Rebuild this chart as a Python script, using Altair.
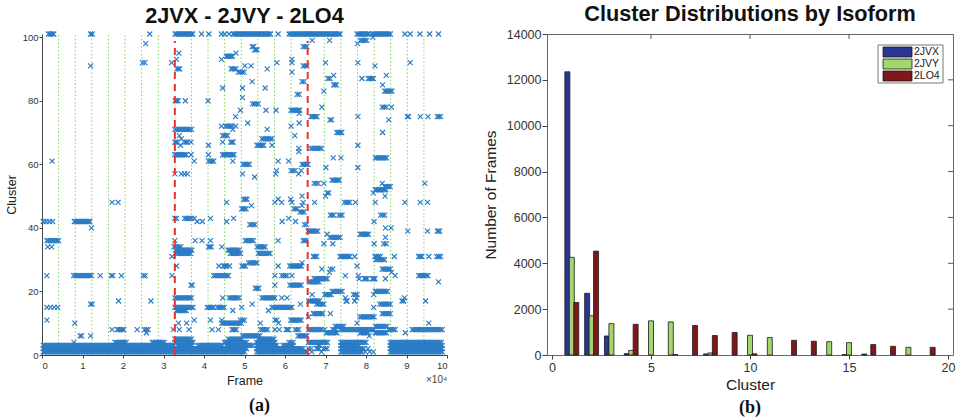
import altair as alt
import numpy as np
import pandas as pd

# ---------------- Panel (a): cluster membership per frame ----------------
# runs: (cluster, first frame, last frame), frames in thousands
runs_2jvx = [
    (1, 0.3, 32.6), (2, 0.3, 32.6), (3, 0.3, 32.6),
    (4, 7.9, 7.9), (4, 18.0, 20.8), (4, 27.2, 30.2),
    (6, 9.4, 9.8), (6, 12.0, 12.0), (7, 25.8, 25.8),
    (8, 17.3, 17.3), (8, 18.6, 20.2), (8, 23.5, 23.5), (8, 25.3, 26.2), (8, 32.4, 32.4),
    (10, 8.1, 8.1), (11, 1.2, 1.2),
    (15, 1.2, 1.2), (15, 2.1, 2.1), (15, 3.0, 3.0), (15, 3.9, 3.9),
    (16, 12.0, 12.4), (17, 18.9, 18.9), (17, 26.9, 26.9),
    (25, 1.2, 1.2), (25, 7.8, 12.2), (25, 14.4, 14.4), (25, 17.1, 17.5), (25, 19.6, 19.6),
    (25, 25.0, 25.5), (25, 32.1, 32.1), (31, 32.1, 32.1),
    (34, 1.4, 1.4), (34, 2.4, 2.4), (36, 1.2, 4.1), (40, 12.2, 12.2),
    (42, 0.3, 0.3), (42, 1.0, 1.0), (42, 1.8, 1.8), (42, 2.6, 2.6), (42, 8.0, 11.8),
    (48, 17.3, 17.3), (48, 18.8, 18.8), (61, 2.5, 2.5),
    (91, 12.0, 12.0), (92, 24.8, 25.4), (92, 32.0, 32.0), (98, 25.6, 25.6),
    (101, 1.6, 2.9), (101, 12.0, 12.4), (101, 26.6, 26.6),
]

runs_2jvy = [
    (1, 32.8, 50.0), (1, 53.0, 65.4), (2, 32.8, 50.5), (2, 53.0, 64.5),
    (3, 33.5, 37.0), (3, 38.5, 44.5), (3, 45.5, 52.0), (3, 53.0, 58.0), (3, 59.5, 62.0),
    (4, 32.8, 37.3), (4, 45.0, 50.5), (4, 53.0, 57.5), (4, 61.0, 62.0),
    (5, 32.8, 36.9), (5, 46.0, 49.3), (5, 53.4, 57.3),
    (6, 49.5, 53.8), (6, 63.2, 65.4),
    (8, 33.9, 33.9), (8, 36.3, 36.3), (8, 42.0, 42.0), (8, 43.6, 43.6), (8, 46.9, 48.0),
    (8, 54.0, 55.7), (8, 57.5, 57.5), (8, 58.6, 58.6), (8, 60.3, 60.9), (8, 62.5, 63.4),
    (10, 33.7, 33.7), (10, 35.7, 35.7), (10, 44.4, 49.2), (10, 53.9, 53.9), (10, 58.4, 58.4),
    (11, 37.6, 37.8), (11, 41.6, 41.6), (11, 44.4, 44.4), (11, 49.0, 50.0), (11, 57.5, 58.0),
    (11, 61.4, 64.0),
    (14, 33.2, 35.6), (14, 47.1, 47.1), (14, 55.9, 55.9),
    (15, 32.8, 37.3), (15, 40.8, 42.4), (15, 43.3, 45.0), (15, 49.3, 49.3), (15, 56.8, 61.7),
    (16, 51.9, 51.9), (16, 63.8, 63.8),
    (18, 32.8, 36.9), (18, 44.6, 44.6), (18, 46.2, 48.7), (18, 54.3, 57.5), (18, 59.2, 59.2),
    (18, 60.5, 60.5),
    (21, 52.7, 53.5), (22, 36.8, 37.1), (22, 57.5, 57.5), (22, 61.2, 64.0),
    (25, 42.4, 45.7), (25, 46.0, 46.0), (25, 57.5, 57.5), (25, 59.2, 60.5), (25, 61.7, 61.7),
    (28, 33.2, 33.4), (28, 43.7, 43.7), (28, 44.8, 45.6), (28, 46.3, 46.3), (28, 49.4, 50.2),
    (28, 58.3, 58.3), (28, 61.2, 64.0), (29, 51.0, 53.1), (29, 64.2, 64.2),
    (32, 33.2, 36.7), (32, 46.5, 49.0), (32, 53.4, 56.3), (33, 33.0, 37.0), (33, 45.9, 48.7),
    (34, 32.6, 34.3), (34, 41.1, 41.8), (34, 44.4, 44.4), (34, 53.1, 55.1),
    (36, 32.8, 32.8), (36, 37.8, 37.8), (36, 39.5, 39.5), (36, 41.6, 41.6), (36, 50.2, 52.2),
    (36, 58.3, 58.3), (36, 64.5, 65.2), (41, 51.3, 52.6), (41, 64.8, 65.3),
    (42, 38.3, 38.3), (42, 39.6, 39.6), (42, 45.6, 45.6), (42, 59.3, 59.3), (42, 62.6, 62.6),
    (43, 32.8, 33.2), (43, 35.2, 36.9), (43, 37.6, 37.6), (43, 41.6, 41.6), (43, 47.3, 47.3),
    (43, 60.9, 60.9), (45, 63.7, 64.7), (46, 49.3, 50.4), (46, 62.2, 63.0),
    (47, 51.7, 51.7), (47, 64.2, 64.2),
    (48, 45.6, 45.6), (48, 57.5, 57.5), (48, 59.2, 59.2), (48, 61.7, 61.7), (48, 64.5, 64.5),
    (49, 49.8, 50.6), (49, 58.3, 58.3), (49, 61.4, 61.4), (50, 64.2, 64.2),
    (56, 52.5, 52.5), (57, 32.8, 32.8), (57, 34.4, 34.4), (57, 35.2, 35.2), (57, 35.9, 35.9),
    (57, 49.5, 49.5), (57, 57.7, 57.7), (57, 63.4, 63.4),
    (58, 57.9, 57.9), (58, 61.5, 62.5), (58, 64.0, 64.0), (60, 49.6, 51.2), (60, 64.2, 65.7),
    (61, 37.6, 37.6), (61, 41.1, 42.4), (61, 47.1, 47.1), (61, 58.3, 58.3), (61, 60.9, 60.9),
    (63, 32.8, 35.6), (63, 36.8, 36.8), (63, 41.1, 41.1), (63, 44.6, 47.4),
    (64, 63.4, 63.4), (65, 63.4, 63.4),
    (66, 34.2, 34.2), (66, 41.1, 41.1), (66, 53.1, 54.7), (66, 56.8, 56.8),
    (67, 32.8, 33.4), (67, 35.2, 36.0), (67, 36.8, 36.8), (67, 44.6, 44.6), (67, 46.6, 47.2),
    (68, 34.4, 34.4), (68, 54.3, 56.8), (69, 33.9, 33.9), (69, 44.6, 45.8), (69, 62.4, 62.4),
    (71, 32.8, 36.9), (71, 47.1, 47.1), (71, 55.6, 55.6),
    (72, 44.3, 44.3), (72, 45.3, 47.0), (72, 47.8, 47.8), (72, 61.5, 61.5),
    (73, 50.8, 50.8), (73, 63.5, 63.5), (75, 47.8, 47.8), (76, 63.5, 63.5),
    (77, 49.0, 49.0), (77, 55.3, 55.3), (77, 57.8, 57.8), (77, 61.5, 63.6),
    (79, 52.0, 53.4), (80, 32.9, 33.6), (80, 35.4, 35.4), (80, 41.0, 41.0),
    (81, 49.5, 49.5), (82, 63.0, 63.5), (84, 44.6, 44.6), (84, 49.5, 49.5), (84, 55.1, 55.1),
    (86, 51.9, 51.9), (86, 64.2, 64.7), (89, 48.5, 49.9), (89, 61.7, 61.7),
    (90, 33.3, 34.0), (90, 46.7, 47.9), (90, 55.6, 55.6),
    (91, 50.1, 50.1), (91, 51.6, 51.6), (91, 64.5, 65.4), (92, 58.0, 58.0), (92, 61.7, 61.7),
    (93, 33.2, 33.2), (93, 44.3, 44.3), (93, 61.7, 61.7), (94, 45.5, 47.0),
    (95, 33.8, 33.8), (95, 47.9, 47.9), (96, 52.5, 53.1), (97, 51.9, 52.3), (97, 64.5, 65.4),
    (101, 32.9, 37.2), (101, 39.4, 39.4), (101, 41.2, 41.2), (101, 44.3, 44.3),
    (101, 45.1, 45.1), (101, 46.2, 46.2), (101, 47.2, 56.4), (101, 58.3, 58.3), (101, 61.0, 65.6),
]

runs_2lo4 = [
    (1, 66.6, 66.6), (1, 69.0, 69.0), (2, 65.9, 66.5), (2, 67.8, 68.4), (2, 69.5, 70.4),
    (3, 68.2, 68.6),
    (1, 73.8, 79.0), (2, 73.8, 79.5), (3, 73.8, 78.2),
    (1, 79.8, 79.8), (1, 80.9, 80.9), (1, 81.8, 81.8), (2, 80.5, 80.5),
    (1, 86.0, 98.8), (2, 86.0, 98.8), (3, 86.0, 98.8),
    (4, 65.8, 70.5), (4, 73.8, 80.0), (4, 86.0, 98.6),
    (6, 80.8, 80.8), (7, 70.2, 72.8), (7, 78.6, 80.5), (7, 82.3, 85.0), (7, 89.7, 89.7),
    (8, 65.8, 69.1), (8, 69.8, 69.8), (8, 71.8, 72.5), (8, 73.7, 82.0), (8, 85.6, 87.2),
    (8, 91.4, 98.8),
    (9, 72.4, 74.5), (9, 82.3, 85.2), (10, 77.8, 77.8), (10, 95.5, 95.5),
    (12, 65.8, 65.8), (12, 78.5, 82.0), (13, 67.0, 69.3), (13, 71.2, 71.2), (13, 84.0, 86.0),
    (15, 81.9, 81.9), (16, 67.8, 69.6), (16, 83.4, 86.0),
    (17, 65.9, 68.5), (17, 75.1, 75.3), (17, 77.2, 77.2), (17, 88.9, 89.3), (17, 94.7, 94.7),
    (18, 74.9, 74.9), (18, 77.7, 77.7), (18, 89.5, 89.5),
    (19, 66.7, 66.7), (19, 69.8, 71.4), (19, 76.9, 77.8), (19, 81.9, 81.9),
    (20, 71.6, 74.1), (20, 82.3, 85.3), (23, 66.0, 68.4), (23, 97.9, 97.9),
    (24, 67.2, 70.4), (24, 78.3, 78.3), (24, 79.6, 80.3), (24, 81.6, 82.2), (24, 84.8, 84.8),
    (25, 74.9, 74.9), (25, 78.1, 78.1), (25, 87.2, 87.2), (25, 93.0, 95.3),
    (26, 71.0, 71.0), (26, 86.3, 86.3), (27, 69.1, 69.1), (27, 71.2, 71.8), (27, 84.0, 86.0),
    (28, 77.8, 77.8), (30, 82.4, 84.6),
    (31, 67.0, 67.8), (31, 73.6, 76.0), (31, 77.2, 77.2), (31, 82.2, 83.5), (31, 87.0, 87.0),
    (31, 93.0, 93.8), (31, 95.5, 95.5), (31, 97.5, 98.4),
    (35, 69.6, 69.6), (35, 71.8, 71.8), (35, 82.0, 82.0), (35, 84.4, 85.0),
    (37, 71.1, 73.6), (37, 84.8, 84.8), (38, 70.4, 70.4), (38, 78.6, 80.6),
    (39, 65.7, 68.1), (39, 90.3, 90.3), (39, 95.2, 95.2), (39, 97.6, 98.2),
    (40, 84.8, 84.8), (40, 86.2, 86.2), (42, 82.0, 82.0),
    (44, 71.2, 72.0), (44, 73.3, 74.1), (44, 83.6, 84.6),
    (48, 67.3, 67.3), (48, 74.7, 76.0), (48, 77.4, 77.4), (48, 82.3, 82.3), (48, 89.6, 89.6),
    (48, 93.4, 93.4), (48, 95.2, 95.2),
    (50, 70.0, 70.0), (50, 84.7, 84.7), (51, 70.4, 70.8), (51, 81.8, 81.8),
    (52, 82.3, 84.9), (53, 84.6, 86.0),
    (54, 67.2, 68.2), (54, 69.6, 69.6), (54, 84.0, 84.0), (54, 94.5, 94.5), (55, 71.6, 73.4),
    (59, 70.1, 70.1), (59, 78.0, 78.0), (62, 71.9, 71.9), (62, 73.8, 73.8), (62, 82.3, 85.1),
    (65, 66.4, 69.0), (66, 78.0, 78.0), (70, 72.8, 74.0), (70, 84.1, 84.1),
    (74, 71.1, 71.5), (74, 85.6, 85.6),
    (75, 66.4, 67.9), (75, 78.0, 78.0), (75, 90.2, 90.5), (75, 93.4, 93.4), (75, 95.3, 95.3),
    (75, 97.6, 98.4),
    (78, 69.1, 69.1), (78, 84.0, 85.0), (78, 86.3, 86.3), (83, 69.6, 69.6), (83, 84.6, 86.4),
    (85, 72.0, 72.7), (85, 84.1, 84.1), (87, 70.6, 71.1), (87, 79.0, 79.0), (87, 80.6, 81.8),
    (88, 72.0, 72.0), (88, 85.0, 85.0), (91, 82.2, 82.2),
    (92, 70.0, 70.0), (92, 78.0, 78.0), (92, 90.9, 90.9),
    (98, 77.9, 77.9), (99, 66.7, 66.7), (99, 71.0, 71.0), (99, 78.6, 80.2), (100, 81.7, 81.7),
    (101, 65.6, 73.6), (101, 77.8, 80.7), (101, 81.5, 86.0), (101, 89.6, 89.6),
    (101, 90.9, 90.9), (101, 93.3, 93.3), (101, 95.7, 95.7), (101, 97.9, 97.9),
]

# trajectory boundaries (thousand frames)
green_bounds = [4.1, 8.2, 12.3, 16.4, 20.5, 24.6, 28.7, 36.9, 41.0, 45.1, 49.2, 53.3,
                57.4, 61.5, 69.7, 73.8, 77.9, 82.0, 86.1, 90.2, 94.3]
red_bounds = [32.8, 65.6]

# ---------------- Panel (b): cluster distribution ----------------
clusters = list(range(1, 20))
isoforms = ["2JVX", "2JVY", "2LO4"]
counts_2jvx = [12350, 2690, 830, 60, 0, 0, 0, 45, 0, 0, 0, 0, 0, 0, 15, 40, 0, 0, 0]
counts_2jvy = [4260, 1710, 1370, 200, 1490, 1445, 0, 90, 0, 860, 760, 0, 0, 580, 540, 0, 0, 335, 0]
counts_2lo4 = [2290, 4530, 0, 1340, 0, 15, 1285, 850, 980, 50, 0, 640, 600, 0, 0, 455, 380, 0, 335]
bar_colors = ["#2b3594", "#a3d66d", "#801719"]
group_shift = {"2JVX": -0.225, "2JVY": 0.0, "2LO4": 0.225}

# ---- build tables ----
STEP = 0.4
pts = []
for runs in (runs_2jvx, runs_2jvy, runs_2lo4):
    for c, s, e in runs:
        n = int(round((e - s) / STEP)) + 1
        xs = np.linspace(s, e, n) if n > 1 else [s]
        for x in xs:
            pts.append({"frame": float(x), "cluster": c})
df_pts = pd.DataFrame(pts)

bars = []
for iso, vals in zip(isoforms, (counts_2jvx, counts_2jvy, counts_2lo4)):
    for c, v in zip(clusters, vals):
        if v > 0:
            bars.append({"isoform": iso, "cluster": c, "pos": c + group_shift[iso], "count": v})
df_bars = pd.DataFrame(bars)

FONT = "Liberation Sans"
AW, AH = 405, 321
BW, BH = 406, 321

xscale_a = alt.Scale(domain=[0, 100], nice=False, zero=False)
yscale_a = alt.Scale(domain=[0, 101], nice=False, zero=False)

axis_common = dict(labelFont=FONT, titleFont=FONT, labelColor="#333", titleColor="#222",
                   tickColor="#444", grid=False, titleFontWeight="normal", labelOverlap=False)

xmark = "M-1,-1L1,1M-1,1L1,-1"

green_lines = alt.Chart(pd.DataFrame({"frame": green_bounds})).mark_rule(
    color="#7fd05c", strokeDash=[1.5, 2.2], strokeWidth=1
).encode(x=alt.X("frame:Q", scale=xscale_a), y=alt.datum(0), y2=alt.datum(101))

scatter = alt.Chart(df_pts).mark_point(
    shape=xmark, filled=False, size=25, strokeWidth=1.15, color="#2a7bc5", opacity=1
).encode(
    x=alt.X("frame:Q", scale=xscale_a,
            axis=alt.Axis(values=list(range(0, 101, 10)), labelExpr="datum.value/10",
                          title="Frame", labelFontSize=9.5, titleFontSize=12.5,
                          tickSize=3, labelPadding=2, titlePadding=5, domainColor="#444",
                          **axis_common)),
    y=alt.Y("cluster:Q", scale=yscale_a,
            axis=alt.Axis(values=list(range(0, 101, 10)), title="Cluster",
                          labelFontSize=9.5, titleFontSize=12.5, tickSize=3,
                          labelPadding=1, titlePadding=4, domainColor="#444", **axis_common)),
)

red_lines = alt.Chart(pd.DataFrame({"frame": red_bounds})).mark_rule(
    color="#e8322a", strokeDash=[7, 5], strokeWidth=2
).encode(x=alt.X("frame:Q", scale=xscale_a), y=alt.datum(0), y2=alt.datum(98.8))

exp_label = alt.Chart(pd.DataFrame({"t": ["×10⁴"]})).mark_text(
    font=FONT, fontSize=10, color="#444", align="left", baseline="middle"
).encode(text="t:N", x=alt.value(384), y=alt.value(346))

cap_a = alt.Chart(pd.DataFrame({"t": ["(a)"]})).mark_text(
    font="Liberation Serif", fontSize=18, fontWeight="bold", color="#111", baseline="middle"
).encode(text="t:N", x=alt.value(AW / 2 + 15), y=alt.value(372))

panel_a = alt.layer(green_lines, scatter, red_lines, exp_label, cap_a).properties(
    width=AW, height=AH,
    title=alt.TitleParams("2JVX - 2JVY - 2LO4", font=FONT, fontSize=21.7, fontWeight="bold",
                          color="#111", offset=2),
)

xscale_b = alt.Scale(domain=[0, 20], nice=False, zero=False)
yscale_b = alt.Scale(domain=[0, 14000], nice=False)

bar_layer = alt.Chart(df_bars).mark_bar(size=5, stroke="#1a1a1a", strokeWidth=0.8).encode(
    x=alt.X("pos:Q", scale=xscale_b,
            axis=alt.Axis(values=[0, 5, 10, 15, 20], title="Cluster", labelFontSize=12.5,
                          titleFontSize=15.5, tickSize=4, labelPadding=2, titlePadding=4,
                          domain=False, format="d", **axis_common)),
    y=alt.Y("count:Q", scale=yscale_b,
            axis=alt.Axis(values=list(range(0, 14001, 2000)), title="Number of Frames",
                          labelFontSize=12.5, titleFontSize=15.5, tickSize=5, labelPadding=1,
                          titlePadding=8, domain=False, format="d", **axis_common)),
    color=alt.Color("isoform:N", scale=alt.Scale(domain=isoforms, range=bar_colors), legend=None),
)

top_ticks = alt.Chart(pd.DataFrame({"v": [5, 10, 15]})).mark_rule(color="#555").encode(
    x=alt.X("v:Q", scale=xscale_b), y=alt.value(0), y2=alt.value(5))
right_ticks = alt.Chart(pd.DataFrame({"v": list(range(2000, 13000, 2000))})).mark_rule(color="#555").encode(
    y=alt.Y("v:Q", scale=yscale_b), x=alt.value(BW - 5), x2=alt.value(BW))

# legend box drawn by hand (MATLAB style)
LX, LY, ROW = 331, 11, 12
legend_layers = [
    alt.Chart(pd.DataFrame({"k": [0]})).mark_rect(fill="white", stroke="#777", strokeWidth=1).encode(
        x=alt.value(LX), x2=alt.value(LX + 65), y=alt.value(LY), y2=alt.value(LY + 38))
]
for i, (iso, col) in enumerate(zip(isoforms, bar_colors)):
    cy = LY + 7 + i * ROW
    legend_layers.append(
        alt.Chart(pd.DataFrame({"k": [iso]})).mark_rect(fill=col, stroke="#1a1a1a", strokeWidth=0.8).encode(
            x=alt.value(LX + 5), x2=alt.value(LX + 34), y=alt.value(cy - 5), y2=alt.value(cy + 5)))
    legend_layers.append(
        alt.Chart(pd.DataFrame({"k": [iso]})).mark_text(font=FONT, fontSize=10.5, color="#222",
                                                        align="left", baseline="middle").encode(
            text="k:N", x=alt.value(LX + 36), y=alt.value(cy)))

cap_b = alt.Chart(pd.DataFrame({"t": ["(b)"]})).mark_text(
    font="Liberation Serif", fontSize=18, fontWeight="bold", color="#111", baseline="middle"
).encode(text="t:N", x=alt.value(203), y=alt.value(374))

panel_b = alt.layer(bar_layer, top_ticks, right_ticks, *legend_layers, cap_b).properties(
    width=BW, height=BH,
    view=alt.ViewBackground(stroke="#666", strokeWidth=1),
    title=alt.TitleParams("Cluster Distributions by Isoform", font=FONT, fontSize=21.7,
                          fontWeight="bold", color="#111", offset=2),
)

chart = alt.hconcat(panel_a, panel_b, spacing=34).configure_view(stroke=None).properties(
    padding={"left": 5, "top": 3, "right": 0, "bottom": 0}, background="white"
)

chart.save("out.html", embed_options={"renderer": "svg", "actions": False})
